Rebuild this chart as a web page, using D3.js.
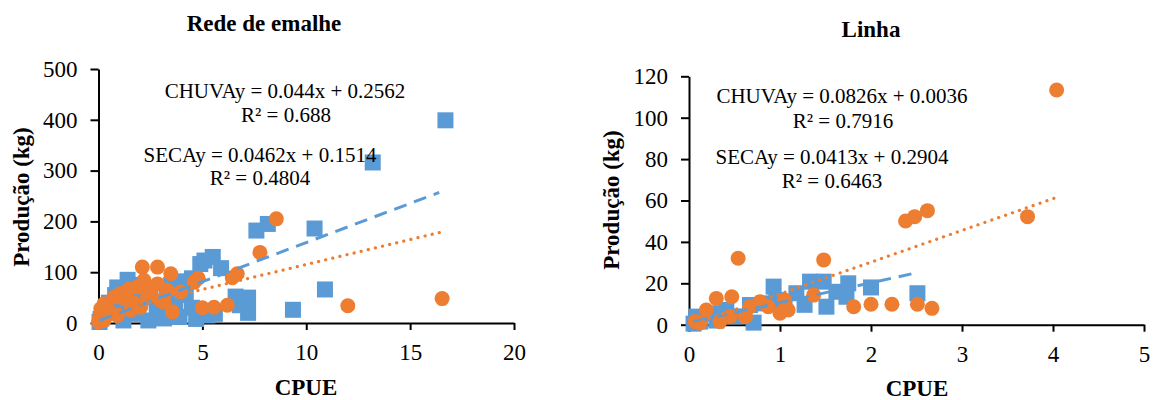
<!DOCTYPE html>
<html>
<head>
<meta charset="utf-8">
<script src="https://cdn.jsdelivr.net/npm/d3@7"></script>
<style>
  body { margin: 0; background: #fff; }
  text { font-family: "Liberation Serif", "Times New Roman", serif; fill: #000; }
</style>
</head>
<body>
<svg id="chart" width="1157" height="400"></svg>
<script>
// Rede de emalhe
var redeChuvaX = [0.05, 0.1, 0.2, 0.35, 0.5, 0.7, 0.8, 0.9, 1.1, 1.2, 1.4, 1.5, 1.7, 1.9, 2.1, 2.4, 2.5, 2.8, 3.0, 3.15, 3.3, 3.5, 3.7, 3.8, 3.9, 4.2, 4.5, 4.5, 4.7, 4.9, 5.1, 5.24, 5.5, 5.6, 5.9, 6.6, 6.8, 7.2, 7.2, 7.6, 8.15, 9.36, 10.4, 10.9, 13.2, 16.7];
var redeChuvaY = [2, 8, 15, 25, 40, 20, 55, 70, 35, 5, 85, 60, 45, 18, 75, 5, 50, 30, 22, 9, 60, 75, 35, 82, 12, 55, 88, 30, 8, 116, 123, 15, 130, 18, 108, 52, 35, 50, 20, 182, 195, 26, 186, 66, 316, 399];
var redeSecaX = [0, 0.05, 0.11, 0.2, 0.27, 0.27, 0.4, 0.5, 0.75, 0.91, 1.07, 1.23, 1.47, 1.55, 1.7, 1.88, 2.03, 2.11, 2.19, 2.36, 2.51, 2.84, 2.84, 3.0, 3.15, 3.32, 3.48, 3.56, 3.96, 4.6, 4.8, 5.0, 5.56, 6.2, 6.44, 6.68, 7.77, 8.56, 12.0, 16.54];
var redeSecaY = [2, 10, 28, 18, 38, 5, 30, 22, 51, 15, 58, 48, 67, 25, 40, 71, 31, 110, 84, 51, 64, 110, 77, 44, 41, 64, 97, 22, 61, 80, 88, 30, 31, 35, 89, 97, 139, 205, 34, 48];
var redeChuvaTrendX = [0.05, 16.4];
var redeChuvaTrendY = [5, 257];
var redeSecaTrendX = [0, 16.6];
var redeSecaTrendY = [17, 180];
var redeXTicks = [0, 5, 10, 15, 20];
var redeYTicks = [0, 100, 200, 300, 400, 500];
var redeEq = ["CHUVAy = 0.044x + 0.2562", "R² = 0.688", "SECAy = 0.0462x + 0.1514", "R² = 0.4804"];

// Linha
var linhaChuvaX = [0.05, 0.08, 0.12, 0.25, 0.3, 0.41, 0.5, 0.67, 0.71, 0.82, 0.93, 0.96, 1.05, 1.18, 1.27, 1.33, 1.48, 1.51, 1.62, 1.73, 1.75, 2.0, 2.51];
var linhaChuvaY = [0.5, 3.9, 1.5, 5.5, 2, 7.1, 4, 9.5, 1, 10.3, 18.4, 11.9, 9, 15.2, 9.6, 20.8, 20.8, 8.7, 15.9, 13.5, 20, 18, 15.2];
var linhaSecaX = [0.07, 0.12, 0.19, 0.3, 0.34, 0.45, 0.47, 0.54, 0.62, 0.67, 0.78, 0.87, 1.0, 1.05, 1.09, 1.37, 1.48, 1.81, 2.0, 2.23, 2.38, 2.48, 2.51, 2.62, 2.67, 3.72, 4.04];
var linhaSecaY = [1.5, 0.8, 7.1, 12.7, 1.5, 3.9, 13.5, 32.1, 3.9, 8.7, 11.1, 8.7, 5.5, 11.9, 7.1, 14.3, 31.3, 8.7, 9.9, 9.9, 50.1, 52.2, 9.9, 55.1, 7.9, 52.2, 113.4];
var linhaChuvaTrendX = [0.05, 2.45];
var linhaChuvaTrendY = [1.5, 24.6];
var linhaSecaTrendX = [0.07, 4.04];
var linhaSecaTrendY = [0.6, 61.5];
var linhaXTicks = [0, 1, 2, 3, 4, 5];
var linhaYTicks = [0, 20, 40, 60, 80, 100, 120];
var linhaEq = ["CHUVAy = 0.0826x + 0.0036", "R² = 0.7916", "SECAy = 0.0413x + 0.2904", "R² = 0.6463"];

var blue = "#5B9BD5";
var orange = "#ED7D31";
var serif = "'Liberation Serif', 'Times New Roman', serif";

var svg = d3.select("#chart");

function zip(xs, ys) {
  return xs.map(function(x, i) { return [x, ys[i]]; });
}

function drawPanel(p) {
  var x = d3.scaleLinear().domain(p.xDomain).range(p.xRange);
  var y = d3.scaleLinear().domain(p.yDomain).range(p.yRange);
  var g = svg.append("g");

  // axes
  var xAxis = g.append("g")
    .attr("transform", "translate(0," + p.yRange[0] + ")")
    .call(d3.axisBottom(x).tickValues(p.xTicks).tickFormat(d3.format("d"))
      .tickSize(7).tickSizeOuter(0).tickPadding(8));
  var yAxis = g.append("g")
    .attr("transform", "translate(" + p.xRange[0] + ",0)")
    .call(d3.axisLeft(y).tickValues(p.yTicks).tickFormat(d3.format("d"))
      .tickSize(8).tickSizeOuter(0).tickPadding(13));

  [xAxis, yAxis].forEach(function(a) {
    a.attr("font-family", serif).attr("font-size", 23);
    a.selectAll("path, line").attr("stroke", "#000").attr("stroke-width", 2);
    a.selectAll("text")
      .style("font-family", serif)
      .style("font-size", "23px")
      .attr("fill", "#000");
  });
  xAxis.selectAll("text").attr("dy", "0.95em");

  // blue squares
  var sq = 16;
  g.append("g").selectAll("rect")
    .data(zip(p.chuvaX, p.chuvaY))
    .enter().append("rect")
    .attr("x", function(d) { return x(d[0]) - sq / 2; })
    .attr("y", function(d) { return y(d[1]) - sq / 2; })
    .attr("width", sq)
    .attr("height", sq)
    .attr("fill", blue);

  // orange circles
  g.append("g").selectAll("circle")
    .data(zip(p.secaX, p.secaY))
    .enter().append("circle")
    .attr("cx", function(d) { return x(d[0]); })
    .attr("cy", function(d) { return y(d[1]); })
    .attr("r", 7.5)
    .attr("fill", orange);

  var line = d3.line()
    .x(function(d) { return x(d[0]); })
    .y(function(d) { return y(d[1]); });

  g.append("path")
    .datum(zip(p.chuvaTrendX, p.chuvaTrendY))
    .attr("d", line)
    .attr("fill", "none")
    .attr("stroke", blue)
    .attr("stroke-width", 3)
    .attr("stroke-dasharray", "13,8");

  g.append("path")
    .datum(zip(p.secaTrendX, p.secaTrendY))
    .attr("d", line)
    .attr("fill", "none")
    .attr("stroke", orange)
    .attr("stroke-width", 3.2)
    .attr("stroke-linecap", "round")
    .attr("stroke-dasharray", "0.1,7.2");

  // title
  g.append("text")
    .attr("x", p.titlePos[0])
    .attr("y", p.titlePos[1])
    .attr("text-anchor", "middle")
    .style("font-size", "23px")
    .style("font-weight", "bold")
    .text(p.title);

  // axis titles
  g.append("text")
    .attr("x", p.xTitlePos[0])
    .attr("y", p.xTitlePos[1])
    .attr("text-anchor", "middle")
    .style("font-size", "23px")
    .style("font-weight", "bold")
    .text("CPUE");

  g.append("text")
    .attr("transform", "translate(" + p.yTitlePos[0] + "," + p.yTitlePos[1] + ") rotate(-90)")
    .attr("text-anchor", "middle")
    .style("font-size", "23px")
    .style("font-weight", "bold")
    .text("Produção (kg)");

  // equations
  g.selectAll("text.eq")
    .data(p.eq)
    .enter().append("text")
    .attr("class", "eq")
    .attr("x", function(d, i) { return p.eqPos[i][0]; })
    .attr("y", function(d, i) { return p.eqPos[i][1]; })
    .attr("text-anchor", "middle")
    .style("font-size", "21px")
    .text(function(d) { return d; });
}

drawPanel({
  title: "Rede de emalhe",
  xDomain: [0, 20], xRange: [98.5, 514],
  yDomain: [0, 500], yRange: [323, 69],
  xTicks: redeXTicks, yTicks: redeYTicks,
  chuvaX: redeChuvaX, chuvaY: redeChuvaY,
  secaX: redeSecaX, secaY: redeSecaY,
  chuvaTrendX: redeChuvaTrendX, chuvaTrendY: redeChuvaTrendY,
  secaTrendX: redeSecaTrendX, secaTrendY: redeSecaTrendY,
  eq: redeEq,
  eqPos: [[285, 98], [286, 122], [260, 162], [260, 185]],
  titlePos: [264, 31],
  xTitlePos: [306, 395],
  yTitlePos: [29, 197]
});

drawPanel({
  title: "Linha",
  xDomain: [0, 5], xRange: [689, 1144],
  yDomain: [0, 120], yRange: [324.7, 76.3],
  xTicks: linhaXTicks, yTicks: linhaYTicks,
  chuvaX: linhaChuvaX, chuvaY: linhaChuvaY,
  secaX: linhaSecaX, secaY: linhaSecaY,
  chuvaTrendX: linhaChuvaTrendX, chuvaTrendY: linhaChuvaTrendY,
  secaTrendX: linhaSecaTrendX, secaTrendY: linhaSecaTrendY,
  eq: linhaEq,
  eqPos: [[842, 103], [843, 128], [832, 164], [832, 188]],
  titlePos: [871, 37],
  xTitlePos: [917, 396],
  yTitlePos: [619, 200]
});
</script>
</body>
</html>
